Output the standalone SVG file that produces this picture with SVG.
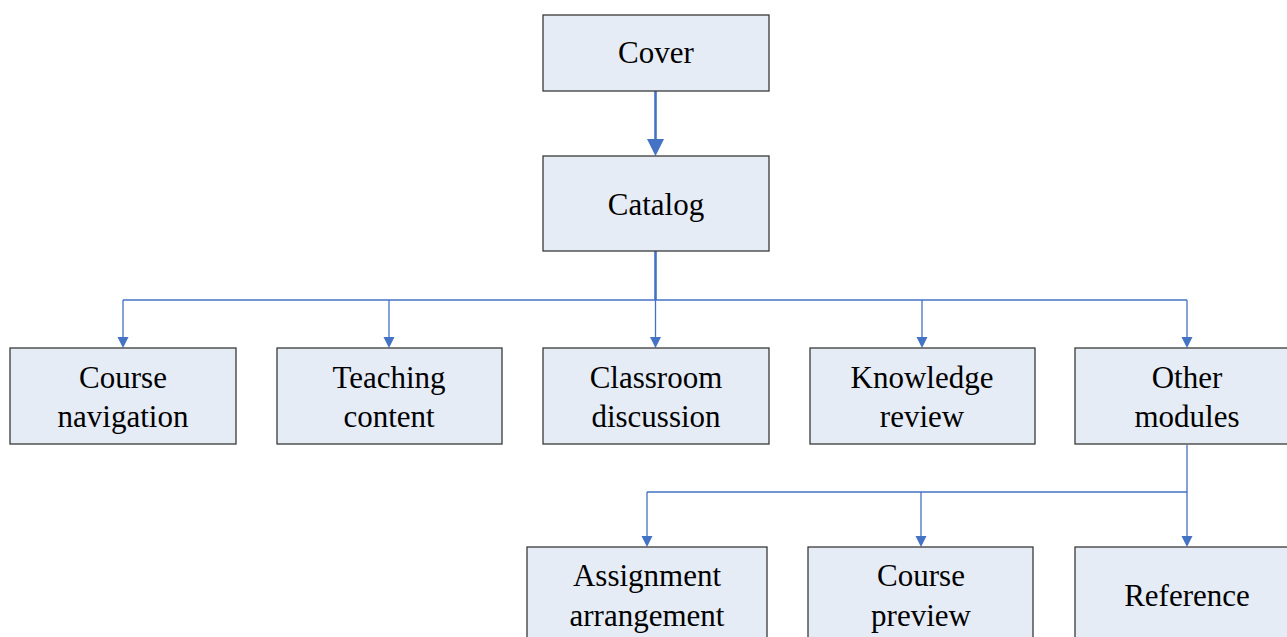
<svg xmlns="http://www.w3.org/2000/svg" width="1287" height="637" viewBox="0 0 1287 637">
<style>
.box{fill:#E6ECF6;stroke:#3a3a3a;stroke-width:1.3}
.t{font-family:"Liberation Serif","Times New Roman",serif;font-size:31px;fill:#000;text-anchor:middle}
.thick{stroke:#4472C4;stroke-width:2.6;fill:none}
.thin{stroke:#4472C4;stroke-width:1.3;fill:none}
</style>
<defs>
<marker id="ab" markerUnits="userSpaceOnUse" markerWidth="18" markerHeight="18" viewBox="0 0 18 18" refX="9" refY="16" orient="auto-start-reverse">
<path d="M0.5,0 L17.5,0 L9,16 Z" fill="#4472C4"/>
</marker>
<marker id="as" markerUnits="userSpaceOnUse" markerWidth="12" markerHeight="12" viewBox="0 0 12 12" refX="6" refY="11" orient="auto-start-reverse">
<path d="M0.5,0 L11.5,0 L6,11 Z" fill="#4472C4"/>
</marker>
</defs>
<g id="connectors">
<path class="thick" d="M655.5,91 V140" />
<path d="M647,139 L664,139 L655.5,156 Z" fill="#4472C4"/>
<path class="thick" d="M655.5,251 V300"/>
<path class="thin" d="M123,300 H1187"/>
<path class="thin" d="M123,300 V337"/>
<path d="M117.5,337 L128.5,337 L123,348 Z" fill="#4472C4"/>
<path class="thin" d="M389,300 V337"/>
<path d="M383.5,337 L394.5,337 L389,348 Z" fill="#4472C4"/>
<path class="thin" d="M655.5,300 V337"/>
<path d="M650,337 L661,337 L655.5,348 Z" fill="#4472C4"/>
<path class="thin" d="M922,300 V337"/>
<path d="M916.5,337 L927.5,337 L922,348 Z" fill="#4472C4"/>
<path class="thin" d="M1187,300 V337"/>
<path d="M1181.5,337 L1192.5,337 L1187,348 Z" fill="#4472C4"/>
<path class="thin" d="M1187,445 V492 H647"/>
<path class="thin" d="M647,492 V536"/>
<path d="M641.5,536 L652.5,536 L647,547 Z" fill="#4472C4"/>
<path class="thin" d="M921,492 V536"/>
<path d="M915.5,536 L926.5,536 L921,547 Z" fill="#4472C4"/>
<path class="thin" d="M1187,492 V536"/>
<path d="M1181.5,536 L1192.5,536 L1187,547 Z" fill="#4472C4"/>
</g>
<g id="cover"><rect class="box" x="543" y="15" width="226" height="76"/><text class="t" x="656" y="63">Cover</text></g>
<g id="catalog"><rect class="box" x="543" y="156" width="226" height="95"/><text class="t" x="656" y="215">Catalog</text></g>
<g id="course-navigation"><rect class="box" x="10" y="348" width="226" height="96"/><text class="t" x="123" y="388">Course</text><text class="t" x="123" y="427">navigation</text></g>
<g id="teaching-content"><rect class="box" x="277" y="348" width="225" height="96"/><text class="t" x="389" y="388">Teaching</text><text class="t" x="389" y="427">content</text></g>
<g id="classroom-discussion"><rect class="box" x="543" y="348" width="226" height="96"/><text class="t" x="656" y="388">Classroom</text><text class="t" x="656" y="427">discussion</text></g>
<g id="knowledge-review"><rect class="box" x="810" y="348" width="225" height="96"/><text class="t" x="922" y="388">Knowledge</text><text class="t" x="922" y="427">review</text></g>
<g id="other-modules"><rect class="box" x="1075" y="348" width="220" height="96"/><text class="t" x="1187" y="388">Other</text><text class="t" x="1187" y="427">modules</text></g>
<g id="assignment-arrangement"><rect class="box" x="527" y="547" width="240" height="100"/><text class="t" x="647" y="586">Assignment</text><text class="t" x="647" y="626">arrangement</text></g>
<g id="course-preview"><rect class="box" x="808" y="547" width="225" height="100"/><text class="t" x="921" y="586">Course</text><text class="t" x="921" y="626">preview</text></g>
<g id="reference"><rect class="box" x="1075" y="547" width="220" height="100"/><text class="t" x="1187" y="606">Reference</text></g>
</svg>
